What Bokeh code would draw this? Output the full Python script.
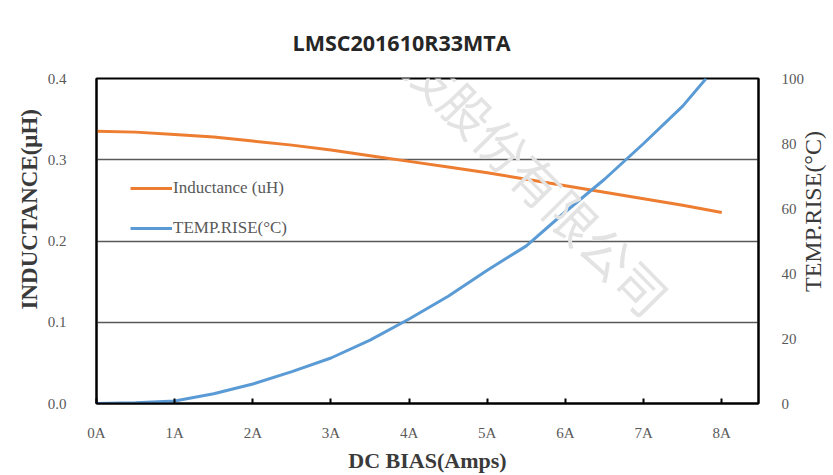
import math
from bokeh.plotting import figure
from bokeh.models import (Range1d, LinearAxis, FixedTicker, Legend, LegendItem, Label,
                          NumeralTickFormatter, Title)
from bokeh.embed import file_html
from bokeh.resources import INLINE

# ---- data ----
current_a = [0, 0.5, 1, 1.5, 2, 2.5, 3, 3.5, 4, 4.5, 5, 5.5, 6, 6.5, 7, 7.5, 8]
inductance_uh = [0.335, 0.334, 0.331, 0.328, 0.323, 0.318, 0.312, 0.305, 0.298,
                 0.291, 0.284, 0.276, 0.268, 0.260, 0.252, 0.244, 0.235]

temp_current_a = [0, 0.5, 1, 1.5, 2, 2.5, 3, 3.5, 4, 4.5, 5, 5.5, 6, 6.5, 7, 7.5, 7.8]
temp_rise_c = [0, 0.2, 0.8, 3.0, 6.0, 9.8, 14.0, 19.5, 26.0, 33.0, 41.0, 48.5,
               59.0, 69.0, 80.0, 91.5, 100.0]

x_ticks = [0, 1, 2, 3, 4, 5, 6, 7, 8]
x_tick_labels = ["0A", "1A", "2A", "3A", "4A", "5A", "6A", "7A", "8A"]
left_ticks = [0.0, 0.1, 0.2, 0.3, 0.4]
right_ticks = [0, 20, 40, 60, 80, 100]

title_text = "LMSC201610R33MTA"
x_title = "DC BIAS(Amps)"
left_title = "INDUCTANCE(μH)"
right_title = "TEMP.RISE(°C)"
series_names = ["Inductance (uH)", "TEMP.RISE(°C)"]
watermark = "技股份有限公司"

ORANGE = "#ED7D31"
BLUE = "#5B9BD5"
TICK_COLOR = "#595959"
TITLE_COLOR = "#3a3a3a"
SERIF = "Liberation Serif"

p = figure(width=833, height=475, x_range=Range1d(0, 8.47), y_range=Range1d(0, 0.4),
           output_backend="svg", toolbar_location=None,
           min_border_left=96, min_border_right=69, min_border_top=78, min_border_bottom=62)
p.background_fill_color = "white"
p.border_fill_color = "white"
p.outline_line_color = "black"
p.outline_line_width = 2

# chart title
p.title.text = title_text
p.title.align = "left"
p.title.offset = 196
p.title.standoff = 44
p.title.text_font = "Open Sans"
p.title.text_font_style = "bold"
p.title.text_font_size = "21.5px"
p.title.text_color = "#262626"

# watermark
p.add_layout(Label(x=319, y=348, x_units="screen", y_units="screen", text=watermark,
                   angle=-45.5, angle_units="deg", text_font="Noto Sans CJK SC",
                   text_baseline="middle", text_font_size="50px", text_color="#e3e3e3"))

# grid
p.xgrid.visible = False
p.ygrid.ticker = FixedTicker(ticks=[0.1, 0.2, 0.3])
p.ygrid.grid_line_color = "#595959"
p.ygrid.grid_line_width = 1.5

# left axis
ly = p.yaxis[0]
ly.ticker = FixedTicker(ticks=left_ticks)
ly.formatter = NumeralTickFormatter(format="0.0")
ly.axis_line_color = "black"
ly.axis_line_width = 2
ly.major_tick_line_color = None
ly.minor_tick_line_color = None
ly.major_label_standoff = 24
ly.major_label_text_font = SERIF
ly.major_label_text_font_size = "15px"
ly.major_label_text_color = TICK_COLOR

# bottom axis
bx = p.xaxis[0]
bx.ticker = FixedTicker(ticks=x_ticks)
bx.major_label_overrides = {t: l for t, l in zip(x_ticks, x_tick_labels)}
bx.axis_line_color = "black"
bx.axis_line_width = 2
bx.major_tick_in = 5
bx.major_tick_out = 0
bx.major_tick_line_width = 2
bx.major_tick_line_color = "black"
bx.minor_tick_line_color = None
bx.major_label_standoff = 21
bx.major_label_text_font = SERIF
bx.major_label_text_font_size = "15px"
bx.major_label_text_color = TICK_COLOR
bx.axis_label = x_title
bx.axis_label_standoff = 4
bx.axis_label_text_font = SERIF
bx.axis_label_text_font_style = "bold"
bx.axis_label_text_font_size = "22px"
bx.axis_label_text_color = TITLE_COLOR

# right axis
p.extra_y_ranges = {"temp": Range1d(0, 100)}
ry = LinearAxis(y_range_name="temp")
ry.ticker = FixedTicker(ticks=right_ticks)
ry.axis_line_color = "black"
ry.axis_line_width = 2
ry.major_tick_line_color = None
ry.minor_tick_line_color = None
ry.major_label_standoff = 17
ry.major_label_text_font = SERIF
ry.major_label_text_font_size = "15px"
ry.major_label_text_color = TICK_COLOR
p.add_layout(ry, "right")

# right vertical title (reads bottom to top), placed in the right side panel
p.add_layout(Label(x=5, y=192, x_units="screen", y_units="screen", text=right_title,
                   angle=90, angle_units="deg", text_align="center", text_baseline="middle",
                   text_font=SERIF, text_font_style="normal", text_font_size="24px",
                   text_color=TITLE_COLOR), "right")

# left vertical title
p.add_layout(Title(text=left_title, align="left", offset=94, standoff=6,
                   text_font=SERIF, text_font_style="bold", text_font_size="23px",
                   text_color=TITLE_COLOR), "left")

# series
r1 = p.line(current_a, inductance_uh, line_color=ORANGE, line_width=3)
r2 = p.line(temp_current_a, temp_rise_c, line_color=BLUE, line_width=3, y_range_name="temp")

legend = Legend(items=[LegendItem(label=series_names[0], renderers=[r1]),
                       LegendItem(label=series_names[1], renderers=[r2])],
                location=(34, 165), border_line_color=None, background_fill_alpha=0,
                glyph_width=42, glyph_height=20, label_height=20, spacing=20,
                label_standoff=1, padding=0, margin=0,
                label_text_font=SERIF, label_text_font_size="17px",
                label_text_color=TICK_COLOR)
p.add_layout(legend, "center")

open("out.html", "w").write(file_html(p, INLINE))
